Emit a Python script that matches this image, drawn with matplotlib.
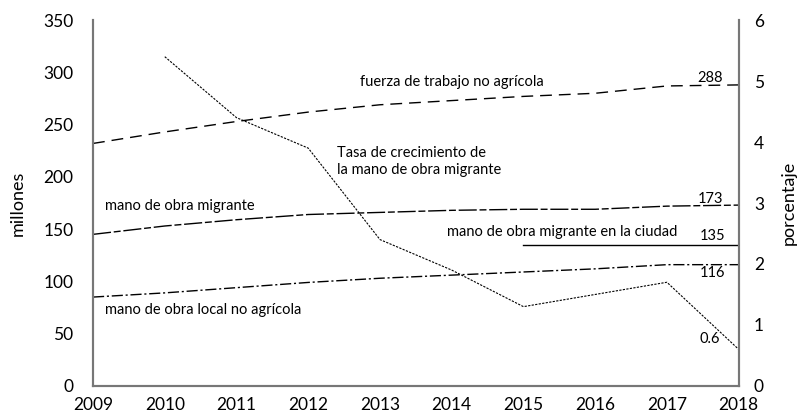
import matplotlib
matplotlib.use("Agg")
import matplotlib.pyplot as plt

plt.rcParams['font.family'] = ['Lato', 'DejaVu Sans']

# datos (millones, porcentaje)
years = [2009, 2010, 2011, 2012, 2013, 2014, 2015, 2016, 2017, 2018]
fuerza_no_agricola = [232, 243, 253, 262, 269, 273, 277, 280, 287, 288]
migrante = [145, 153, 159, 164, 166, 168, 169, 169, 172, 173]
local_no_agricola = [85, 89, 94, 99, 103, 106, 109, 112, 116, 116]
years_ciudad = [2015, 2016, 2017, 2018]
migrante_ciudad = [135, 135, 135, 135]
years_tasa = [2010, 2011, 2012, 2013, 2014, 2015, 2016, 2017, 2018]
tasa_crecimiento = [5.4, 4.4, 3.9, 2.4, 1.9, 1.3, 1.5, 1.7, 0.6]

fig = plt.figure(figsize=(8.02, 4.19), dpi=100)
ax = fig.add_axes([0.116, 0.079, 0.805, 0.873])
ax2 = ax.twinx()

ax.plot(years, fuerza_no_agricola, color='black', lw=1, linestyle=(0, (8.5, 5)))
ax.plot(years, migrante, color='black', lw=1, linestyle=(0, (13, 2, 5, 2)))
ax.plot(years, local_no_agricola, color='black', lw=1, linestyle=(0, (8, 2, 1.5, 2)))
ax.plot(years_ciudad, migrante_ciudad, color='black', lw=1)
ax2.plot(years_tasa, tasa_crecimiento, color='black', lw=0.8, linestyle=(0, (2, 1.2)))

ax.set_xlim(2009, 2018)
ax.set_ylim(0, 350)
ax2.set_ylim(0, 6)
ax.set_xticks(years)
ax.set_yticks(range(0, 351, 50))
ax2.set_yticks(range(0, 7))

for a in (ax, ax2):
    a.spines['top'].set_visible(False)
    for s in ('left', 'right', 'bottom'):
        a.spines[s].set_color('#777777')
        a.spines[s].set_linewidth(1.5)
    a.tick_params(length=0, labelsize=12.5)
ax.tick_params(axis='y', pad=14)
ax.tick_params(axis='x', pad=8)
ax2.tick_params(axis='y', pad=11)

ax.set_ylabel('millones', fontsize=13, labelpad=13)
ax2.set_ylabel('porcentaje', fontsize=13, labelpad=12)

fs = 10.5
ax.text(2012.72, 290.7, 'fuerza de trabajo no agrícola', fontsize=fs, va='center')
ax.text(2017.43, 294.5, '288', fontsize=fs, va='center')
ax.text(2012.40, 215, 'Tasa de crecimiento de\nla mano de obra migrante', fontsize=fs,
        va='center', linespacing=1.3)
ax.text(2009.17, 172, 'mano de obra migrante', fontsize=fs, va='center')
ax.text(2017.43, 178.8, '173', fontsize=fs, va='center')
ax.text(2013.93, 147, 'mano de obra migrante en la ciudad', fontsize=fs, va='center')
ax.text(2017.46, 143.4, '135', fontsize=fs, va='center')
ax.text(2017.46, 108, '116', fontsize=fs, va='center')
ax.text(2009.17, 72.7, 'mano de obra local no agrícola', fontsize=fs, va='center')
ax.text(2017.45, 45, '0.6', fontsize=fs, va='center')

fig.savefig('out.png', dpi=100)
